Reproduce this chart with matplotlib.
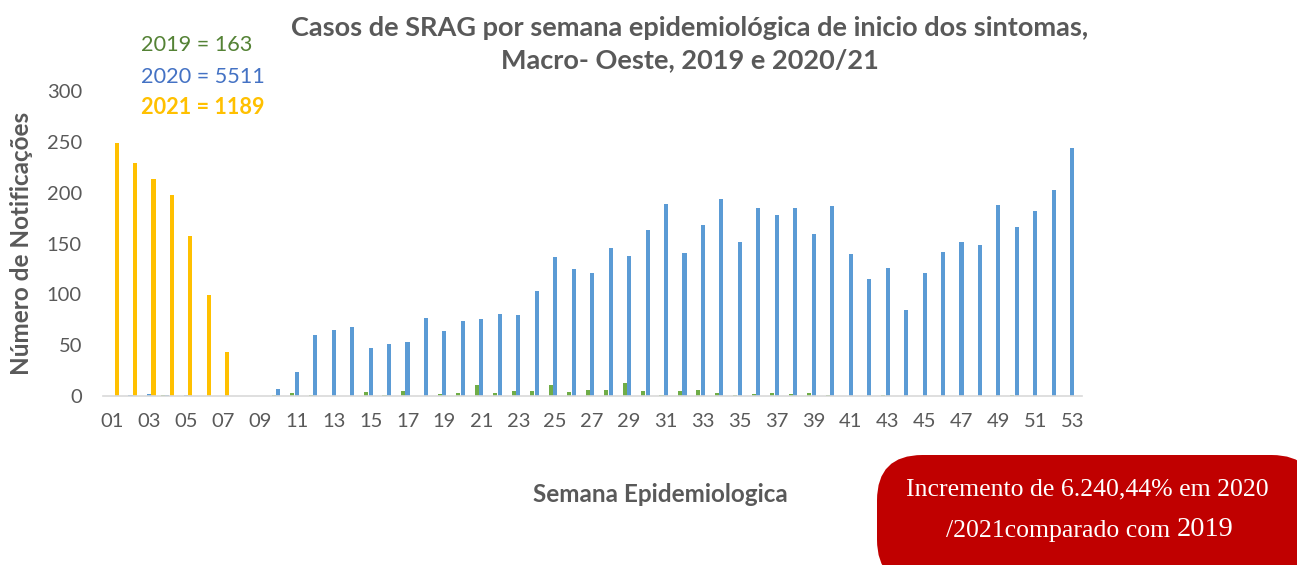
import matplotlib
matplotlib.use("Agg")
import matplotlib.pyplot as plt
from matplotlib.patches import FancyBboxPatch
import numpy as np

weeks = list(range(1, 54))
week_labels = [f"{w:02d}" if w % 2 == 1 else "" for w in weeks]

cases_2019 = [0, 0, 0, 1, 0, 0, 0, 0, 0, 1, 3, 1, 0, 0, 4, 1, 5, 0, 2, 3,
              11, 3, 5, 5, 11, 4, 6, 6, 13, 5, 1, 5, 6, 3, 1, 2, 3, 2, 3, 1,
              0, 0, 1, 0, 0, 0, 0, 0, 0, 1, 0, 0, 0]
cases_2020 = [0, 1, 2, 1, 1, 0, 0, 0, 0, 7, 24, 60, 65, 68, 47, 51, 53, 77, 64, 74,
              76, 81, 80, 103, 137, 125, 121, 146, 138, 163, 189, 141, 168, 194, 152, 185, 178, 185, 159, 187,
              140, 115, 126, 85, 121, 142, 152, 149, 188, 166, 182, 203, 244]
cases_2021 = [249, 229, 214, 198, 157, 99, 43] + [0] * 46

totals_text = ["2019 = 163", "2020 = 5511", "2021 = 1189"]

c19, c20, c21 = "#70AD47", "#5B9BD5", "#FFC000"
grey = "#595959"

W, H = 1297, 565
fig = plt.figure(figsize=(W / 100, H / 100), dpi=100)
ax = fig.add_axes([102.8 / W, (H - 396) / H, (1081.5 - 102.8) / W, (396 - 91.2) / H])

x = np.array(weeks, dtype=float)
bw = 0.22
off = 0.245
ax.bar(x - off, cases_2019, width=bw, color=c19)
ax.bar(x, cases_2020, width=bw, color=c20)
ax.bar(x + off, cases_2021, width=bw, color=c21)

ax.set_xlim(0.5, 53.5)
ax.set_ylim(0, 300)
ax.set_yticks(range(0, 301, 50))
ax.set_xticks(weeks)
ax.set_xticklabels(week_labels)
ax.tick_params(axis="both", length=0, labelsize=14.5, colors=grey)
ax.tick_params(axis="y", pad=15)
ax.tick_params(axis="x", pad=12)
for lab in ax.get_xticklabels() + ax.get_yticklabels():
    lab.set_fontfamily("Lato")
for s in ["top", "right", "left"]:
    ax.spines[s].set_visible(False)
ax.spines["bottom"].set_color("#D9D9D9")
ax.spines["bottom"].set_linewidth(1.2)

fig.text(22 / W, 1 - 243 / H, "Número de Notificações", rotation=90, ha="center", va="center",
         fontsize=17.5, fontweight="bold", color=grey, family="Lato")
fig.text(660 / W, 1 - 495 / H, "Semana Epidemiologica", ha="center", va="center",
         fontsize=17.5, fontweight="bold", color=grey, family="Lato")
fig.text(690 / W, 1 - 28 / H, "Casos de SRAG por semana epidemiológica de inicio dos sintomas,",
         ha="center", va="center", fontsize=19.5, fontweight="bold", color=grey, family="Lato")
fig.text(690 / W, 1 - 60 / H, "Macro- Oeste, 2019 e 2020/21",
         ha="center", va="center", fontsize=19.5, fontweight="bold", color=grey, family="Lato")

fig.text(141 / W, 1 - 45 / H, totals_text[0], ha="left", va="center", fontsize=15.6, color="#548235", family="Lato")
fig.text(141 / W, 1 - 77 / H, totals_text[1], ha="left", va="center", fontsize=15.6, color="#4472C4", family="Lato")
fig.text(141 / W, 1 - 108 / H, totals_text[2], ha="left", va="center", fontsize=15.6, color=c21,
         fontweight="bold", family="Lato")

box = FancyBboxPatch((877 / W, -20 / H), (W + 20 - 877) / W, (565 + 20 - 455) / H,
                     boxstyle="round,pad=0,rounding_size=0.035", transform=fig.transFigure,
                     facecolor="#C00000", edgecolor="none", mutation_aspect=W / H)
fig.patches.append(box)
fig.text(1087 / W, 1 - 489 / H, "Incremento de 6.240,44% em 2020", ha="center", va="center",
         fontsize=18.5, color="white", family="Liberation Serif")
fig.text(1170 / W, 1 - 531 / H, "/2021comparado com", ha="right", va="center",
         fontsize=18.5, color="white", family="Liberation Serif")
fig.text(1177 / W, 1 - 529 / H, "2019", ha="left", va="center",
         fontsize=20.5, color="white", family="Liberation Serif")

fig.savefig("out.png", dpi=100)
